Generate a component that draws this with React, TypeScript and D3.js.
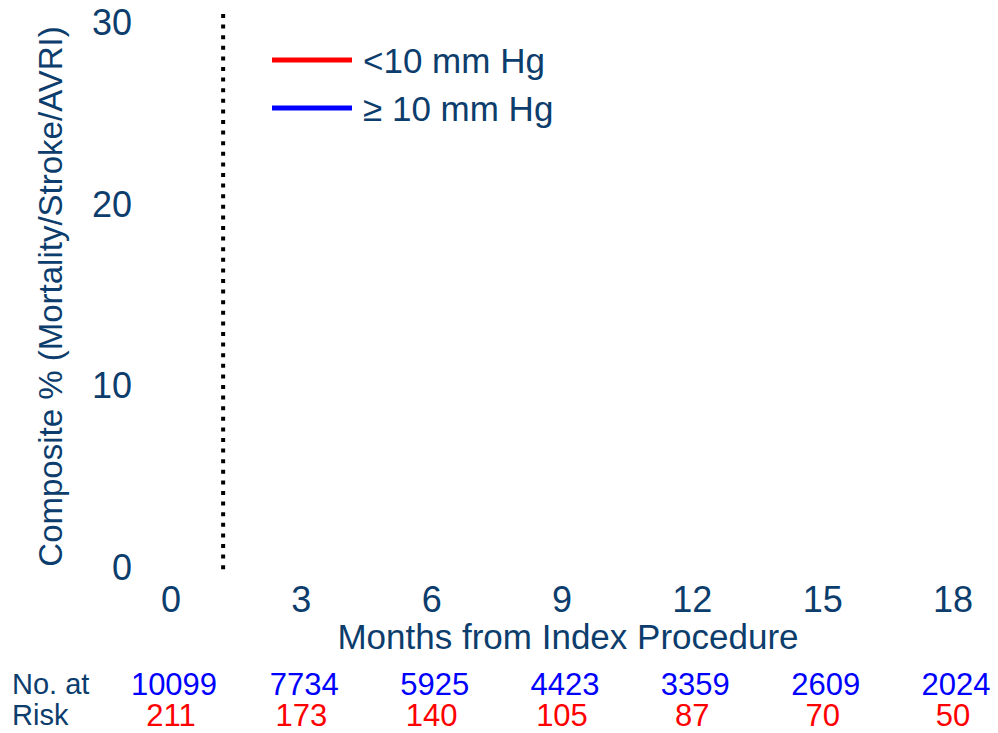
import React from "react";
import * as d3 from "d3";

const NAVY = "#0c3d6c";
const FONT = "'Liberation Sans', Arial, sans-serif";

// chart data
const monthTicks = [0, 3, 6, 9, 12, 15, 18];
const yTicks = [0, 10, 20, 30];
const atRiskHigh = [10099, 7734, 5925, 4423, 3359, 2609, 2024]; // >= 10 mm Hg
const atRiskLow = [211, 173, 140, 105, 87, 70, 50]; // < 10 mm Hg
const legendItems = [
  { label: "<10 mm Hg", color: "#ff0000" },
  { label: "\u2265 10 mm Hg", color: "#0000ff" },
];
const refMonth = 1.2;

const App = () => {
  const ref = React.useRef<SVGSVGElement | null>(null);

  React.useEffect(() => {
    const svg = d3.select(ref.current);
    svg.selectAll("*").remove();

    const x = d3.scaleLinear().domain([0, 18]).range([171, 953]);
    const y = d3.scaleLinear().domain([0, 30]).range([567, 22]);

    // y tick labels
    svg.append("g")
      .selectAll("text")
      .data(yTicks)
      .enter()
      .append("text")
      .attr("x", 132)
      .attr("y", (d) => y(d))
      .attr("dy", "0.36em")
      .attr("text-anchor", "end")
      .style("font-size", "36px")
      .style("fill", NAVY)
      .text((d) => d);

    // y title
    svg.append("text")
      .attr("transform", "translate(62," + (y(15) + 2) + ") rotate(-90)")
      .attr("text-anchor", "middle")
      .style("font-size", "33px")
      .style("fill", NAVY)
      .text("Composite % (Mortality/Stroke/AVRI)");

    // dotted reference line
    svg.append("line")
      .attr("x1", x(refMonth))
      .attr("x2", x(refMonth))
      .attr("y1", y(30) - 8)
      .attr("y2", y(0) + 6)
      .style("stroke", "#000")
      .style("stroke-width", 4)
      .style("stroke-dasharray", "4 6.6");

    // x tick labels
    svg.append("g")
      .selectAll("text")
      .data(monthTicks)
      .enter()
      .append("text")
      .attr("x", (d) => x(d))
      .attr("y", 599)
      .attr("dy", "0.36em")
      .attr("text-anchor", "middle")
      .style("font-size", "36px")
      .style("fill", NAVY)
      .text((d) => d);

    svg.append("text")
      .attr("x", 568)
      .attr("y", 636)
      .attr("dy", "0.36em")
      .attr("text-anchor", "middle")
      .style("font-size", "35px")
      .style("fill", NAVY)
      .text("Months from Index Procedure");

    // legend
    const leg = svg.append("g")
      .selectAll("g")
      .data(legendItems)
      .enter()
      .append("g")
      .attr("transform", (d, i) => "translate(272," + (60 + i * 48) + ")");
    leg.append("line")
      .attr("x1", 0)
      .attr("x2", 80)
      .style("stroke", (d) => d.color)
      .style("stroke-width", 5);
    leg.append("text")
      .attr("x", 91)
      .attr("dy", "0.36em")
      .style("font-size", "35px")
      .style("fill", NAVY)
      .text((d) => d.label);

    // numbers at risk
    svg.append("text")
      .attr("x", 12)
      .attr("y", 684)
      .attr("dy", "0.36em")
      .style("font-size", "29px")
      .style("fill", NAVY)
      .text("No. at");
    svg.append("text")
      .attr("x", 12)
      .attr("y", 715)
      .attr("dy", "0.36em")
      .style("font-size", "29px")
      .style("fill", NAVY)
      .text("Risk");

    svg.append("g")
      .selectAll("text")
      .data(atRiskHigh)
      .enter()
      .append("text")
      .attr("x", (d, i) => x(monthTicks[i]) + 3)
      .attr("y", 684)
      .attr("dy", "0.36em")
      .attr("text-anchor", "middle")
      .style("font-size", "31px")
      .style("fill", "#0000ff")
      .text((d) => d);

    svg.append("g")
      .selectAll("text")
      .data(atRiskLow)
      .enter()
      .append("text")
      .attr("x", (d, i) => x(monthTicks[i]))
      .attr("y", 715)
      .attr("dy", "0.36em")
      .attr("text-anchor", "middle")
      .style("font-size", "31px")
      .style("fill", "#ff0000")
      .text((d) => d);
  }, []);

  return (
    <svg
      ref={ref}
      width={998}
      height={733}
      style={{ position: "absolute", left: 0, top: 0, fontFamily: FONT, background: "#fff" }}
    />
  );
};

export default App;
